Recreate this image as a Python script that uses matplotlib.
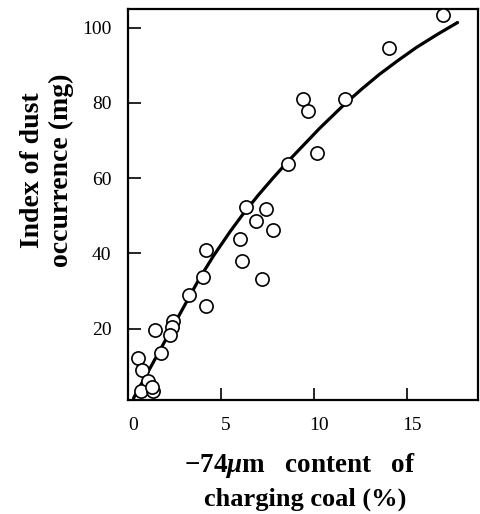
import matplotlib
matplotlib.use("Agg")
import matplotlib.pyplot as plt
from matplotlib.transforms import ScaledTranslation

# Index of dust occurrence vs -74um content of charging coal

fines_pct = [16.9, 14.0, 9.39, 9.66, 11.67, 10.14, 8.62, 6.33, 7.42, 6.85,
             7.81, 5.99, 4.19, 6.11, 4.01, 7.19, 3.30, 4.19, 1.45, 2.40,
             2.35, 2.26, 1.76, 0.52, 0.73, 1.06, 0.70, 1.36, 1.30]
dust_mg = [103.5, 94.7, 81.1, 77.9, 81.0, 66.6, 63.9, 52.3, 51.9, 48.6,
           46.3, 43.7, 41.0, 37.9, 33.7, 33.3, 29.0, 26.1, 19.7, 21.9,
           20.5, 18.3, 13.4, 12.3, 9.0, 6.1, 3.3, 3.5, 4.4]

# trend curve
curve_x = [0.3, 2.0, 3.8, 4.6, 5.5, 6.2, 7.0, 7.8, 8.6, 10.3, 11.7,
           12.6, 13.5, 14.5, 15.5, 16.6, 17.7]
curve_y = [1.5, 16.8, 33.0, 39.4, 45.9, 50.6, 55.5, 60.1, 64.5, 73.3, 80.0,
           83.9, 87.6, 91.3, 94.8, 98.2, 101.4]

x_ticks = [0, 5, 10, 15]
y_ticks = [20, 40, 60, 80, 100]

plt.rcParams['font.family'] = ['Liberation Serif', 'DejaVu Serif']
plt.rcParams['mathtext.fontset'] = 'custom'
plt.rcParams['mathtext.rm'] = 'Liberation Serif:bold'
plt.rcParams['mathtext.bf'] = 'Liberation Serif:bold'
plt.rcParams['mathtext.it'] = 'Liberation Serif:italic:bold'

fig = plt.figure(figsize=(4.81, 5.14), dpi=100)
ax = fig.add_axes([0.2661, 0.2218, 0.7277, 0.7607])

ax.plot(curve_x, curve_y, color='black', lw=2.3, zorder=2,
        solid_joinstyle='round', solid_capstyle='round')
ax.plot(fines_pct, dust_mg, 'o', ms=9.5, mfc='white', mec='black',
        mew=1.2, zorder=3, clip_on=False)

ax.set_xlim(0, 18.8)
ax.set_ylim(1, 105)
ax.set_xticks(x_ticks)
ax.set_yticks(y_ticks)
ax.tick_params(direction='in', length=9, width=1.2, labelsize=14, pad=12)

# x tick labels sit a little right of their marks in the original
shift = ScaledTranslation(5 / 100, 0, fig.dpi_scale_trans)
for lab in ax.get_xticklabels():
    lab.set_transform(lab.get_transform() + shift)

for s in ax.spines.values():
    s.set_linewidth(1.6)

fig.text(0.097, 0.669, 'Index of dust\noccurrence (mg)', rotation=90,
         ha='center', va='center', fontsize=20, fontweight='bold',
         linespacing=1.2)

fig.text(0.624, 0.095, r'$\mathbf{-74}\mu\mathbf{m}$   content   of',
         ha='center', va='center', fontsize=19.5, fontweight='bold')
fig.text(0.634, 0.016, 'charging coal (%)',
         ha='center', va='baseline', fontsize=19, fontweight='bold')

plt.savefig('out.png', dpi=100)
